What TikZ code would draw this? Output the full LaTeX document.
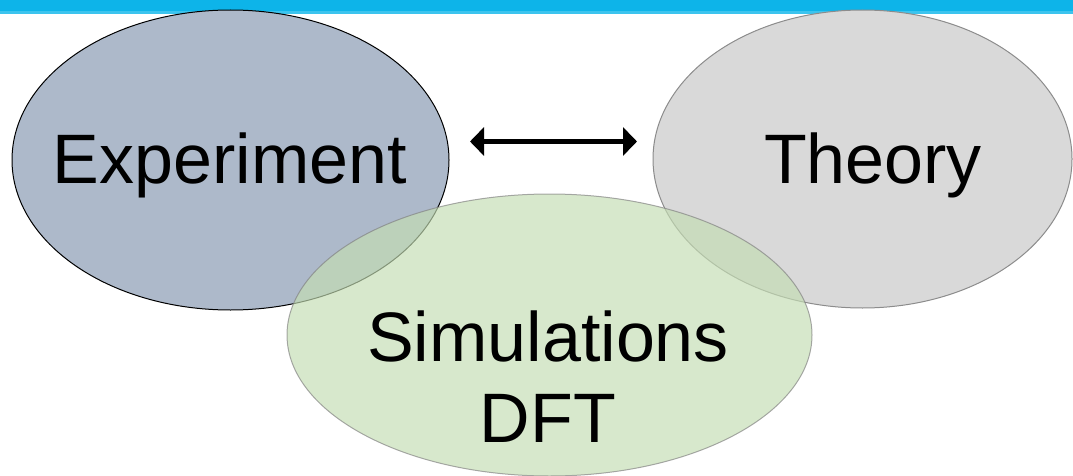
\documentclass[tikz,border=0pt]{standalone}
\usepackage{fontspec}
\setmainfont{Liberation Sans}
\usetikzlibrary{shapes.geometric,arrows.meta}
\definecolor{barblue}{HTML}{0DB4E9}
\definecolor{barlight}{HTML}{3CC4EE}
\definecolor{expfill}{HTML}{ADB9CA}
\definecolor{theofill}{HTML}{D9D9D9}
\definecolor{simfill}{HTML}{C4DDB3}
\begin{document}
\begin{tikzpicture}[x=1pt, y=-1pt,
    blob/.style={ellipse, inner sep=0pt, line width=1pt},
    bigtext/.style={font=\fontsize{70}{81}\selectfont, inner sep=0pt, align=center},
    link/.style={line width=4pt, {Triangle[length=14pt,width=28pt]}-{Triangle[length=14pt,width=28pt]}}
]
    \useasboundingbox (0,0) rectangle (1073,476);

    % Header bar
    \fill[barblue] (0,0) rectangle (1073,11);
    \fill[barlight] (0,11) rectangle (1073,14);

    % Circles
    \node[blob, draw=black, fill=expfill, minimum width=437pt, minimum height=300pt] (exp) at (230.5,160) {};
    \node[blob, draw=black!45, fill=theofill, minimum width=419pt, minimum height=298pt] (theo) at (862.5,159) {};
    \node[blob, draw=black!50, fill=simfill, opacity=0.67, minimum width=525pt, minimum height=282pt] (sim) at (549.5,335) {};

    % Labels
    \node[bigtext, anchor=base] (exptext) at (230,183) {Experiment};
    \node[bigtext, anchor=base] (theotext) at (873,183) {Theory};
    \node[bigtext] (simtext) at (548,376.5) {Simulations\\DFT};

    % Arrow
    \coordinate (lefttip) at (470,141.5);
    \coordinate (righttip) at (637,141.5);
    \draw[link] (lefttip) -- (righttip);
\end{tikzpicture}
\end{document}
